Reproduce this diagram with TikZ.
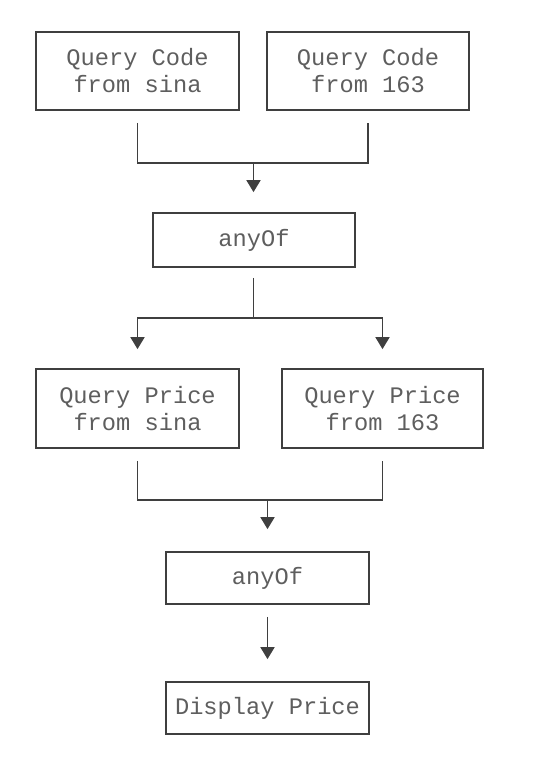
\documentclass[tikz,border=0pt]{standalone}
\usepackage{fontspec}
\setmonofont{Liberation Mono}
\usetikzlibrary{arrows.meta}
\definecolor{linec}{HTML}{3F3F3F}
\definecolor{textc}{HTML}{5E5E5E}
\tikzset{
  box/.style={draw=linec, line width=1.7pt, rectangle, inner sep=0pt,
    minimum width=203pt, align=center, text=textc,
    font=\ttfamily\fontsize{23.7}{27}\selectfont},
  conn/.style={draw=linec, line width=1.7pt},
  arr/.style={conn, -{Triangle[width=14pt,length=12pt]}}
}
\begin{document}
\begin{tikzpicture}[x=1pt,y=-1pt]
\useasboundingbox (0,0) rectangle (552,778);
\node[box, minimum height=78pt] (b1) at (137.5,71) {Query Code\\from sina};
\node[box, minimum height=78pt, minimum width=202pt] (b2) at (368,71) {Query Code\\from 163};
\node[box, minimum height=54pt, minimum width=202pt] (a1) at (254,240) {anyOf};
\node[box, minimum height=79pt] (b3) at (137.5,408.5) {Query Price\\from sina};
\node[box, minimum height=79pt, minimum width=201pt] (b4) at (382.5,408.5) {Query Price\\from 163};
\node[box, minimum height=52pt] (a2) at (267.5,578) {anyOf};
\node[box, minimum height=52pt] (d) at (267.5,708) {Display Price};
\coordinate (j1) at (253.5,163);
\coordinate (j2) at (253.5,318);
\coordinate (j3) at (267.5,500);
% top merge
\draw[conn] ([yshift=-12pt]b1.south) |- (j1) -| ([yshift=-12pt]b2.south);
\draw[arr] (j1) -- ([yshift=20pt]a1.north -| j1);
% split
\draw[conn] ([yshift=-10pt]a1.south -| j2) -- (j2);
\draw[arr] (j2) -| ([yshift=19pt]b3.north);
\draw[arr] (j2) -| ([yshift=19pt]b4.north);
% bottom merge
\draw[conn] ([yshift=-12pt]b3.south) |- (j3) -| ([yshift=-12pt]b4.south);
\draw[arr] (j3) -- ([yshift=22pt]a2.north);
% final
\draw[arr] ([yshift=-12pt]a2.south) -- ([yshift=22pt]d.north);
\end{tikzpicture}
\end{document}
